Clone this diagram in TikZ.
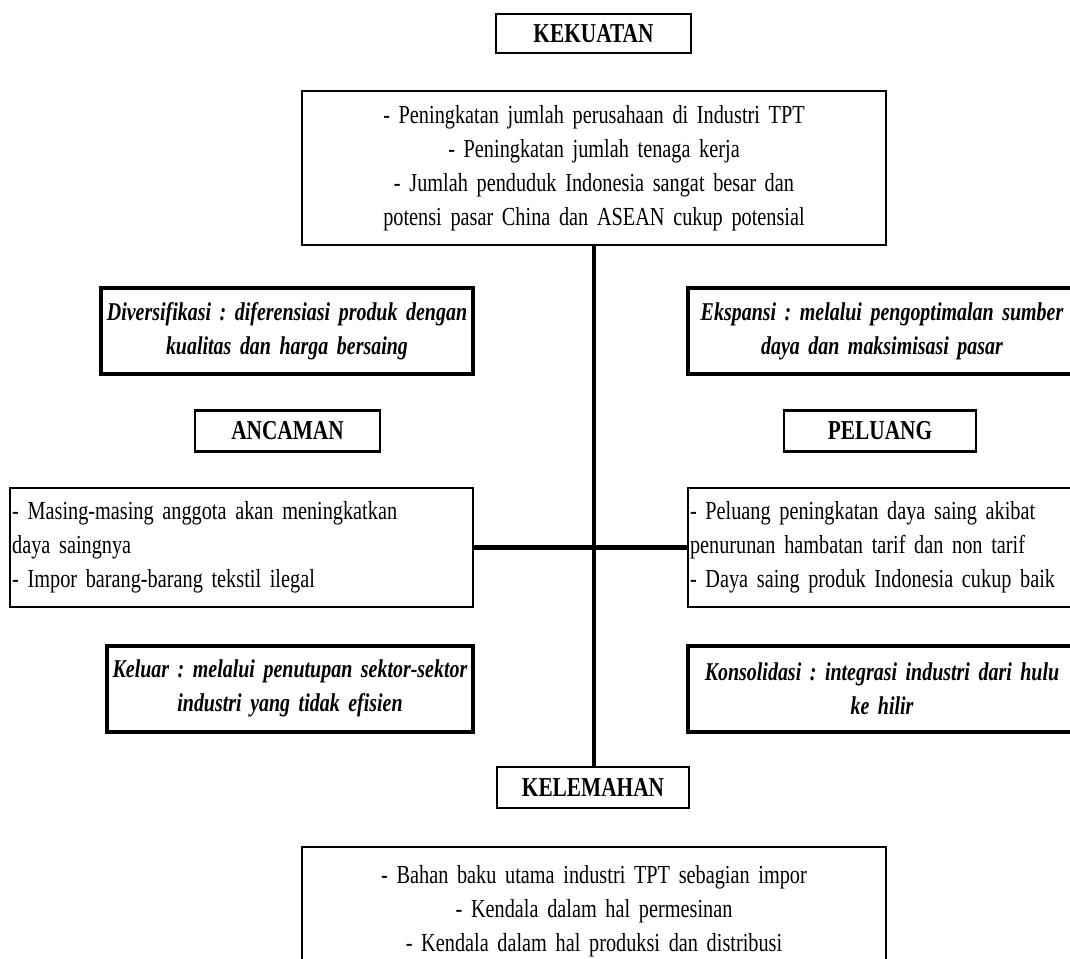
\documentclass[tikz,border=0pt]{standalone}
\usepackage{fontspec}
% tall, narrow Times-like lettering
\setmainfont{Liberation Serif}[FakeStretch=0.78]
\frenchspacing
\begin{document}
\begin{tikzpicture}[x=0.75pt,y=-0.75pt,
  every node/.style={inner sep=1.5pt, outer sep=0pt},
  titlebox/.style={draw, line width=2pt, font=\fontsize{20.5}{25.5}\selectfont\bfseries, minimum height=30.75pt},
  listbox/.style={draw, line width=1.5pt, align=center, font=\fontsize{19.5}{25.5}\selectfont},
  sidebox/.style={draw, line width=1.5pt, align=left, font=\fontsize{19.5}{25.5}\selectfont, minimum height=89.25pt},
  stratbox/.style={draw, line width=3pt, align=center, font=\fontsize{19.2}{25.5}\selectfont\bfseries\itshape, minimum height=64.5pt},
  link/.style={line width=3.5pt}]
\useasboundingbox (0,0) rectangle (1070,959);

% header
\node[titlebox, minimum width=146.25pt, minimum height=29.25pt] (kek) at (593.5,33.5) {KEKUATAN};

% strengths
\node[listbox, minimum width=438pt, minimum height=115.5pt, text width=430pt] (top) at (594,168)
  {- Peningkatan jumlah perusahaan di Industri TPT\\
   - Peningkatan jumlah tenaga kerja\\
   - Jumlah penduduk Indonesia sangat besar dan\\
   potensi pasar China dan ASEAN cukup potensial};

% strategies, upper row
\node[stratbox, minimum width=279pt, text width=275pt] (div) at (287,331)
  {Diversifikasi : diferensiasi produk dengan\\ kualitas dan harga bersaing};
\node[stratbox, minimum width=291pt, text width=287pt] (eks) at (882,331)
  {Ekspansi : melalui pengoptimalan sumber\\ daya dan maksimisasi pasar};

% threats and opportunities
\node[titlebox, minimum width=138.75pt] (anc) at (287.5,431) {ANCAMAN};
\node[titlebox, minimum width=144pt] (pel) at (880,431) {PELUANG};

\node[sidebox, minimum width=347.25pt, text width=344pt] (ancbox) at (241.5,547.5)
  {- Masing-masing anggota akan meningkatkan\\
   daya saingnya\\
   - Impor barang-barang tekstil ilegal};
\node[sidebox, minimum width=291pt, text width=288pt] (pelbox) at (882,547.5)
  {- Peluang peningkatan daya saing akibat\\
   penurunan hambatan tarif dan non tarif\\
   - Daya saing produk Indonesia cukup baik};

% strategies, lower row
\node[stratbox, minimum width=274.5pt, text width=270pt] (kel) at (290,688.5)
  {Keluar : melalui penutupan sektor-sektor\\ industri yang tidak efisien};
\node[stratbox, minimum width=291pt, text width=287pt] (kon) at (882,688.5)
  {Konsolidasi : integrasi industri dari hulu\\ ke hilir};

% weaknesses
\node[titlebox, minimum width=144pt] (lem) at (593,787.5) {KELEMAHAN};
\node[listbox, minimum width=438pt, minimum height=96pt, text width=430pt] (bot) at (594,911)
  {- Bahan baku utama industri TPT sebagian impor\\
   - Kendala dalam hal permesinan\\
   - Kendala dalam hal produksi dan distribusi};

% axes
\coordinate (jn) at (top.south |- ancbox.east);
\draw[link] (top.south) -- (top.south |- lem.north);
\draw[link] (ancbox.east) -- (jn) -- (pelbox.west);
\end{tikzpicture}
\end{document}
